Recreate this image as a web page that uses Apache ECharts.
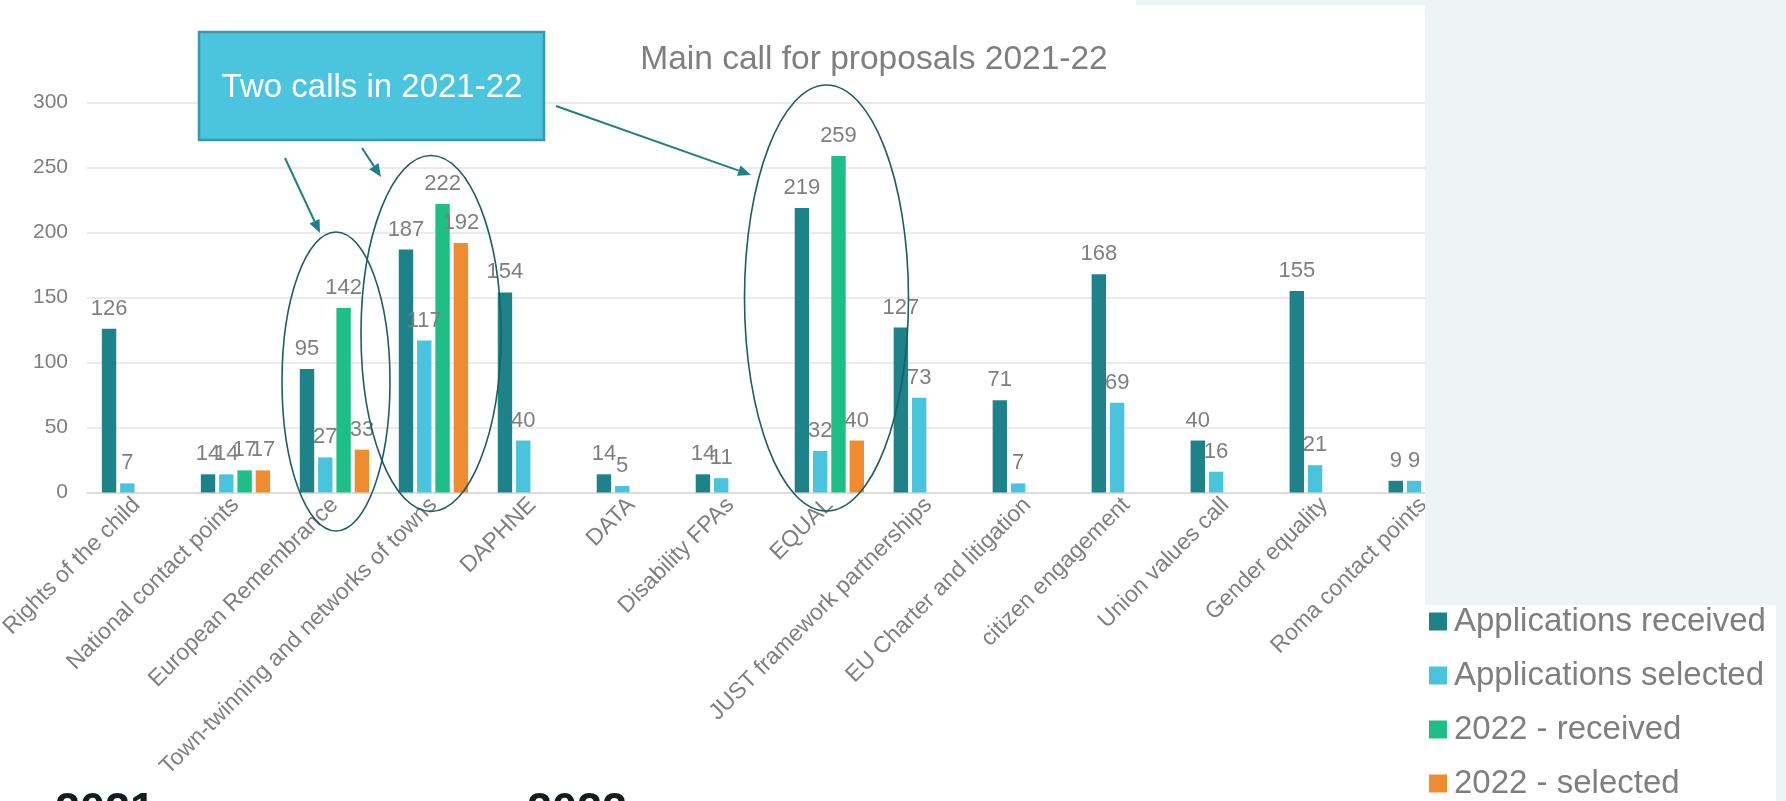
<!DOCTYPE html>
<html>
<head>
<meta charset="utf-8">
<script src="https://cdn.jsdelivr.net/npm/echarts@6/dist/echarts.min.js"></script>
<style>
html,body{margin:0;padding:0;background:#ffffff;}
#chart{width:1786px;height:801px;}
</style>
</head>
<body>
<div id="chart"></div>
<script>
const categories = ['Rights of the child','National contact points','European Remembrance','Town-twinning and networks of towns','DAPHNE','DATA','Disability FPAs','EQUAL','JUST framework partnerships','EU Charter and litigation','citizen engagement','Union values call','Gender equality','Roma contact points'];
const seriesNames = ['Applications received','Applications selected','2022 - received','2022 - selected'];
const received = [126,14,95,187,154,14,14,219,127,71,168,40,155,9];
const selected = [7,14,27,117,40,5,11,32,73,7,69,16,21,9];
const received2022 = [null,17,142,222,null,null,null,259,null,null,null,null,null,null];
const selected2022 = [null,17,33,192,null,null,null,40,null,null,null,null,null,null];
const yMin = 0, yMax = 300, yInterval = 50;
const colors = ['#1e8388','#4ac4dc','#1ebf87','#ee8c30'];
const FONT = '"Liberation Sans", Arial, sans-serif';
const GRAY = '#7f7f7f';

function arrow(x1,y1,x2,y2,color){
  const dx = x2-x1, dy = y2-y1, len = Math.sqrt(dx*dx+dy*dy);
  const ux = dx/len, uy = dy/len, hl = 13, hw = 5.5;
  const bx = x2-ux*hl, by = y2-uy*hl;
  return [
    {type:'line', z:12, shape:{x1:x1,y1:y1,x2:bx,y2:by}, style:{stroke:color,lineWidth:2}},
    {type:'polygon', z:12, shape:{points:[[x2,y2],[bx-uy*hw,by+ux*hw],[bx+uy*hw,by-ux*hw]]}, style:{fill:color}}
  ];
}

const chart = echarts.init(document.getElementById('chart'), null, {renderer:'canvas'});
const dataSeries = [received, selected, received2022, selected2022];
const ARROW = '#1e8188';
const ELL = '#1d5e64';
const PANEL = '#eef3f6';

const option = {
  backgroundColor:'#ffffff',
  animation:false,
  color: colors,
  textStyle:{fontFamily:FONT},
  title:{
    text:'Main call for proposals 2021-22',
    left:869, top:38, textAlign:'center',
    textStyle:{fontFamily:FONT,fontSize:33.5,fontWeight:'normal',color:GRAY}
  },
  legend:{
    orient:'vertical', left:1429, top:605, z:40, padding:0,
    height:196,
    icon:'rect', itemWidth:18, itemHeight:18, itemGap:21,
    data: seriesNames,
    textStyle:{fontFamily:FONT,fontSize:33,lineHeight:33,color:GRAY,padding:[0,0,0,2]}
  },
  grid:{left:87, right:313.3, top:102.7, bottom:308.5, containLabel:false, outerBoundsMode:'none'},
  xAxis:{
    type:'category', data:categories,
    axisLine:{lineStyle:{color:'#d9d9d9',width:1.5}},
    axisTick:{length:6,lineStyle:{color:'#d9d9d9',width:1.5}},
    axisLabel:{rotate:45, fontFamily:FONT, fontSize:23, color:GRAY, margin:9, interval:0}
  },
  yAxis:{
    type:'value', min:yMin, max:yMax, interval:yInterval,
    axisLine:{show:false}, axisTick:{show:false},
    splitLine:{lineStyle:{color:'#e5e5e5',width:1.5}},
    axisLabel:{fontFamily:FONT,fontSize:21,color:GRAY,margin:19}
  },
  series: seriesNames.map((n,i)=>({
    name:n, type:'bar', data:dataSeries[i],
    barGap:'27%', barCategoryGap:'30%',
    itemStyle:{color:colors[i]},
    label:{show:true, position:'top', distance:9, fontFamily:FONT, fontSize:22, color:GRAY}
  })),
  graphic:[
    {type:'ellipse', z:11, shape:{cx:336,cy:381.5,rx:54,ry:149.5}, style:{fill:'none',stroke:ELL,lineWidth:1.6}},
    {type:'ellipse', z:11, shape:{cx:431,cy:333.5,rx:70,ry:178}, style:{fill:'none',stroke:ELL,lineWidth:1.6}},
    {type:'ellipse', z:11, shape:{cx:826.5,cy:298,rx:82,ry:213}, style:{fill:'none',stroke:ELL,lineWidth:1.6}},
    {type:'rect', z:13, shape:{x:199,y:32,width:345,height:108}, style:{fill:'#4bc5dd',stroke:'#3a97ad',lineWidth:2.5}},
    {type:'text', z:14, x:372, y:88, style:{text:'Two calls in 2021-22', fill:'#ffffff', font:'33px '+FONT, textAlign:'center', textVerticalAlign:'middle'}},
    ...arrow(285,158,320,233,ARROW),
    ...arrow(362,148,381,177,ARROW),
    ...arrow(556,106,751,175,ARROW),
    {type:'rect', z:30, shape:{x:1425,y:0,width:361,height:605}, style:{fill:PANEL}},
    {type:'rect', z:30, shape:{x:1136,y:0,width:289,height:5}, style:{fill:PANEL}},
    {type:'rect', z:30, shape:{x:1776,y:605,width:10,height:196}, style:{fill:PANEL}},
    {type:'rect', z:29, shape:{x:1425,y:605,width:351,height:196}, style:{fill:'#ffffff'}},
    {type:'text', z:14, x:55, y:812, style:{text:'2021', fill:'#141c20', font:'bold 45px '+FONT, textAlign:'left', textVerticalAlign:'middle'}},
    {type:'text', z:14, x:527, y:812, style:{text:'2022', fill:'#141c20', font:'bold 45px '+FONT, textAlign:'left', textVerticalAlign:'middle'}}
  ]
};
chart.setOption(option);
</script>
</body>
</html>
